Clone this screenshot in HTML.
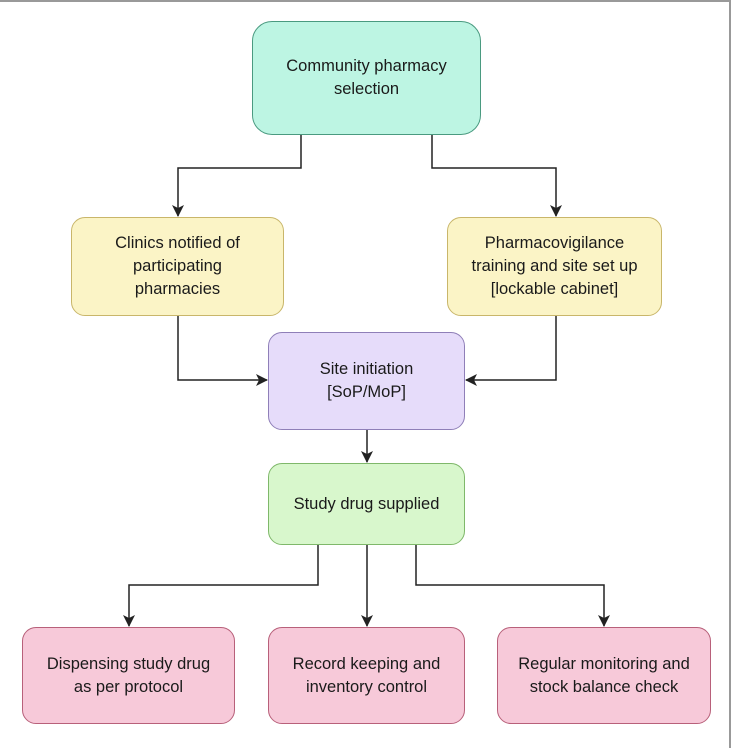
<!DOCTYPE html>
<html><head><style>
body{margin:0;width:731px;height:746px;background:#fff;overflow:hidden;font-family:"Liberation Sans",sans-serif;}
.b{position:absolute;box-sizing:border-box;border-radius:14px;display:flex;align-items:center;justify-content:center;text-align:center;font-size:16.5px;line-height:23px;color:#1a1a1a;}
</style></head><body>
<div style="position:absolute;left:0;top:0;width:729px;height:746px;border-top:2px solid #999;border-right:2px solid #999;"></div>
<svg width="731" height="746" style="position:absolute;left:0;top:0">
<defs><marker id="a" markerWidth="12" markerHeight="12" refX="11" refY="6" orient="auto" markerUnits="userSpaceOnUse"><path d="M0,0 L12,6 L0,12 L3,6z" fill="#222"/></marker></defs>
<g fill="none" stroke="#222" stroke-width="1.5" marker-end="url(#a)">
<path d="M301,135 V168 H178 V216"/>
<path d="M432,135 V168 H556 V216"/>
<path d="M178,316 V380 H267"/>
<path d="M556,316 V380 H466"/>
<path d="M367,430 V462"/>
<path d="M318,545 V585 H129 V626"/>
<path d="M367,545 V626"/>
<path d="M416,545 V585 H604 V626"/>
</g></svg>
<div class="b" style="left:252px;top:21px;width:229px;height:114px;background:#bdf5e3;border:1.5px solid #4a9a80;border-radius:20px">Community pharmacy<br>selection</div>
<div class="b" style="left:71px;top:217px;width:213px;height:99px;background:#fbf4c6;border:1.5px solid #c9b66a">Clinics notified of<br>participating<br>pharmacies</div>
<div class="b" style="left:447px;top:217px;width:215px;height:99px;background:#fbf4c6;border:1.5px solid #c9b66a">Pharmacovigilance<br>training and site set up<br>[lockable cabinet]</div>
<div class="b" style="left:268px;top:332px;width:197px;height:98px;background:#e6dcfa;border:1.5px solid #8f7fb8">Site initiation<br>[SoP/MoP]</div>
<div class="b" style="left:268px;top:463px;width:197px;height:82px;background:#d8f7cc;border:1.5px solid #7fb86a">Study drug supplied</div>
<div class="b" style="left:22px;top:627px;width:213px;height:97px;background:#f7c9d9;border:1.5px solid #b8607a">Dispensing study drug<br>as per protocol</div>
<div class="b" style="left:268px;top:627px;width:197px;height:97px;background:#f7c9d9;border:1.5px solid #b8607a">Record keeping and<br>inventory control</div>
<div class="b" style="left:497px;top:627px;width:214px;height:97px;background:#f7c9d9;border:1.5px solid #b8607a">Regular monitoring and<br>stock balance check</div>
</body></html>
